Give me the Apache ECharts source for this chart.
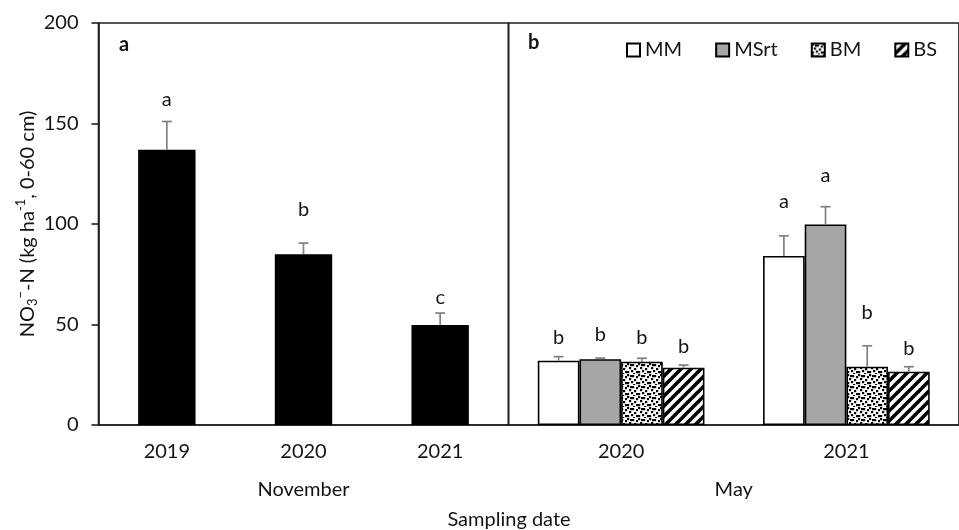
<!DOCTYPE html>
<html>
<head>
<meta charset="utf-8">
<script src="https://cdn.jsdelivr.net/npm/echarts@6/dist/echarts.min.js"></script>
<style>
  html, body { margin: 0; padding: 0; background: #ffffff; }
  #chart { width: 959px; height: 530px; }
</style>
</head>
<body>
<div id="chart"></div>
<script>
// ---- November sampling (panel a) ----
const novCategories = ['2019', '2020', '2021'];
const novValues = [137, 85, 49.7];
const novErrors = [14, 5.5, 6];
const novLetters = ['a', 'b', 'c'];
const novLetterHeights = [162, 107, 63.5];

// ---- May sampling (panel b) ----
const mayCategories = ['2020', '2021'];
const treatments = ['MM', 'MSrt', 'BM', 'BS'];
const mayMM = [32, 84.1];
const mayMSrt = [32.7, 99.8];
const mayBM = [31.5, 29];
const mayBS = [28.5, 26.5];
const mayErrMM = [2, 10];
const mayErrMSrt = [0.6, 8.8];
const mayErrBM = [1.7, 10.4];
const mayErrBS = [1.3, 2.5];
const mayLettersMM = ['b', 'a'];
const mayLettersMSrt = ['b', 'a'];
const mayLettersBM = ['b', 'b'];
const mayLettersBS = ['b', 'b'];
const mayLetterHeightsMM = [43.5, 111];
const mayLetterHeightsMSrt = [44.8, 124];
const mayLetterHeightsBM = [43.3, 56];
const mayLetterHeightsBS = [39, 37.8];

// y axis ticks
const yMin = 0, yMax = 200, yStep = 50;

const FONT = 'Lato';
const FS = 20;
const TEXT = '#141414';
const LINE = '#1f1f1f';
const ERR = '#808080';

// fill textures for BM (dots) and BS (diagonal stripes)
function dotTexture() {
  const c = document.createElement('canvas');
  c.width = 11; c.height = 11;
  const g = c.getContext('2d');
  g.fillStyle = '#ffffff'; g.fillRect(0, 0, 11, 11);
  g.fillStyle = '#000000';
  const dots = [[0,0],[5,1],[9,2],[2,4],[7,5],[4,7],[0,8],[9,8],[6,10],[3,1]];
  dots.forEach(([x, y]) => g.fillRect(x, y, 2.2, 2.2));
  return c;
}
function stripeTexture() {
  const s = 10;
  const c = document.createElement('canvas');
  c.width = s; c.height = s;
  const g = c.getContext('2d');
  g.fillStyle = '#ffffff'; g.fillRect(0, 0, s, s);
  g.strokeStyle = '#000000'; g.lineWidth = 3.6;
  for (let k = -1; k <= 1; k++) {
    g.beginPath();
    g.moveTo(k * s - 1, s + 1);
    g.lineTo(k * s + s + 1, -1);
    g.stroke();
  }
  return c;
}

const mayValues = [mayMM, mayMSrt, mayBM, mayBS];
const mayErrors = [mayErrMM, mayErrMSrt, mayErrBM, mayErrBS];
const mayLetters = [mayLettersMM, mayLettersMSrt, mayLettersBM, mayLettersBS];
const mayLetterHeights = [mayLetterHeightsMM, mayLetterHeightsMSrt, mayLetterHeightsBM, mayLetterHeightsBS];
const fills = ['#ffffff', '#a6a6a6', { image: dotTexture(), repeat: 'repeat' }, { image: stripeTexture(), repeat: 'repeat' }];

const MAY_GAP = 0.26;

// rows for the error bar / letter overlay of panel b: [category, treatment, value, error, letterHeight]
const mayOverlay = [];
const mayOverlayLetters = [];
for (let t = 0; t < treatments.length; t++) {
  for (let c = 0; c < mayCategories.length; c++) {
    mayOverlay.push([c, t, mayValues[t][c], mayErrors[t][c], mayLetterHeights[t][c]]);
    mayOverlayLetters.push(mayLetters[t][c]);
  }
}
const novOverlay = novValues.map((v, i) => [i, v, novErrors[i], novLetterHeights[i]]);

function errorShape(x, yTop, yErr) {
  return [
    { type: 'line', shape: { x1: x, y1: yTop, x2: x, y2: yErr }, style: { stroke: ERR, lineWidth: 1.7 } },
    { type: 'line', shape: { x1: x - 5, y1: yErr, x2: x + 5, y2: yErr }, style: { stroke: ERR, lineWidth: 1.7 } }
  ];
}
function letterShape(x, y, s) {
  return { type: 'text', x: x, y: y, style: { text: s, fill: TEXT, font: FS + 'px ' + FONT, align: 'center', verticalAlign: 'middle' } };
}

const series = [];
series.push({
  type: 'bar', name: 'November', xAxisIndex: 0, yAxisIndex: 0,
  data: novValues, barCategoryGap: '58%',
  itemStyle: { color: '#000000' }, z: 2
});
treatments.forEach((name, t) => {
  series.push({
    type: 'bar', name: name, xAxisIndex: 1, yAxisIndex: 1,
    data: mayValues[t], barCategoryGap: (MAY_GAP * 100) + '%', barGap: '0%',
    itemStyle: { color: fills[t], borderColor: '#000000', borderWidth: 1.6 }, z: 2
  });
});
series.push({
  type: 'custom', xAxisIndex: 0, yAxisIndex: 0, z: 5, silent: true,
  data: novOverlay,
  renderItem: function (params, api) {
    const c = api.value(0), v = api.value(1), e = api.value(2), lh = api.value(3);
    const p0 = api.coord([c, v]);
    const pe = api.coord([c, v + e]);
    const pl = api.coord([c, lh]);
    return { type: 'group', children: errorShape(p0[0], p0[1], pe[1]).concat([letterShape(p0[0], pl[1], novLetters[params.dataIndex])]) };
  }
});
series.push({
  type: 'custom', xAxisIndex: 1, yAxisIndex: 1, z: 5, silent: true,
  data: mayOverlay,
  renderItem: function (params, api) {
    const c = api.value(0), t = api.value(1), v = api.value(2), e = api.value(3), lh = api.value(4);
    const band = api.size([1, 0])[0];
    const group = band * (1 - MAY_GAP);
    const bw = group / treatments.length;
    const base = api.coord([c, 0]);
    const x = base[0] - group / 2 + bw * (t + 0.5);
    const yTop = api.coord([c, v])[1];
    const yErr = api.coord([c, v + e])[1];
    const yLet = api.coord([c, lh])[1];
    return { type: 'group', children: errorShape(x, yTop, yErr).concat([letterShape(x, yLet, mayOverlayLetters[params.dataIndex])]) };
  }
});

const axisText = { color: TEXT, fontFamily: FONT, fontSize: FS };

const option = {
  animation: false,
  backgroundColor: '#ffffff',
  textStyle: { fontFamily: FONT, color: TEXT },
  grid: [
    { left: 98.5, top: 23, width: 410, height: 402, show: true, borderColor: LINE, borderWidth: 1.6, backgroundColor: 'transparent' },
    { left: 508.5, top: 23, width: 461, height: 402, show: true, borderColor: LINE, borderWidth: 1.6, backgroundColor: 'transparent' }
  ],
  legend: {
    data: treatments, left: 621, top: 35, itemWidth: 13, itemHeight: 13, itemGap: 33,
    icon: 'rect', textStyle: { color: TEXT, fontFamily: FONT, fontSize: FS, padding: [0, 0, 0, 0] },
    selectedMode: false
  },
  xAxis: [
    {
      type: 'category', gridIndex: 0, data: novCategories,
      axisLine: { show: true, lineStyle: { color: LINE, width: 1.6 } }, axisTick: { show: false },
      axisLabel: Object.assign({ margin: 17 }, axisText),
      name: 'November', nameLocation: 'middle', nameGap: 55, nameTextStyle: axisText
    },
    {
      type: 'category', gridIndex: 1, data: mayCategories,
      axisLine: { show: true, lineStyle: { color: LINE, width: 1.6 } }, axisTick: { show: false },
      axisLabel: Object.assign({ margin: 17 }, axisText),
      name: 'May', nameLocation: 'middle', nameGap: 55, nameTextStyle: axisText
    }
  ],
  yAxis: [
    {
      type: 'value', gridIndex: 0, min: yMin, max: yMax, interval: yStep,
      axisLine: { show: true, lineStyle: { color: LINE, width: 1.6 } },
      axisTick: { show: true, length: 7, lineStyle: { color: LINE, width: 1.6 } },
      splitLine: { show: false },
      axisLabel: Object.assign({ margin: 20 }, axisText),
      name: '{t|NO}{sub|3}{sup|−}{t|-N (kg ha}{sup|-1}{t|, 0-60 cm)}',
      nameLocation: 'middle', nameGap: 56,
      nameTextStyle: {
        color: TEXT, fontFamily: FONT, fontSize: FS,
        rich: {
          t: { color: TEXT, fontFamily: FONT, fontSize: FS, lineHeight: 25 },
          sub: { color: TEXT, fontFamily: FONT, fontSize: 13, lineHeight: 13, verticalAlign: 'bottom' },
          sup: { color: TEXT, fontFamily: FONT, fontSize: 13, lineHeight: 13, verticalAlign: 'top' }
        }
      }
    },
    {
      type: 'value', gridIndex: 1, min: yMin, max: yMax, interval: yStep,
      axisLine: { show: false }, axisTick: { show: false }, axisLabel: { show: false }, splitLine: { show: false }
    }
  ],
  graphic: [
    { type: 'text', left: 119, top: 35, style: { text: 'a', fill: TEXT, font: 'bold 20px ' + FONT } },
    { type: 'text', left: 528, top: 33, style: { text: 'b', fill: TEXT, font: 'bold 20px ' + FONT } },
    { type: 'text', x: 509, y: 520, style: { text: 'Sampling date', fill: TEXT, font: FS + 'px ' + FONT, align: 'center', verticalAlign: 'middle' } }
  ],
  series: series
};

const chart = echarts.init(document.getElementById('chart'), null, { renderer: 'canvas' });
chart.setOption(option);
</script>
</body>
</html>
